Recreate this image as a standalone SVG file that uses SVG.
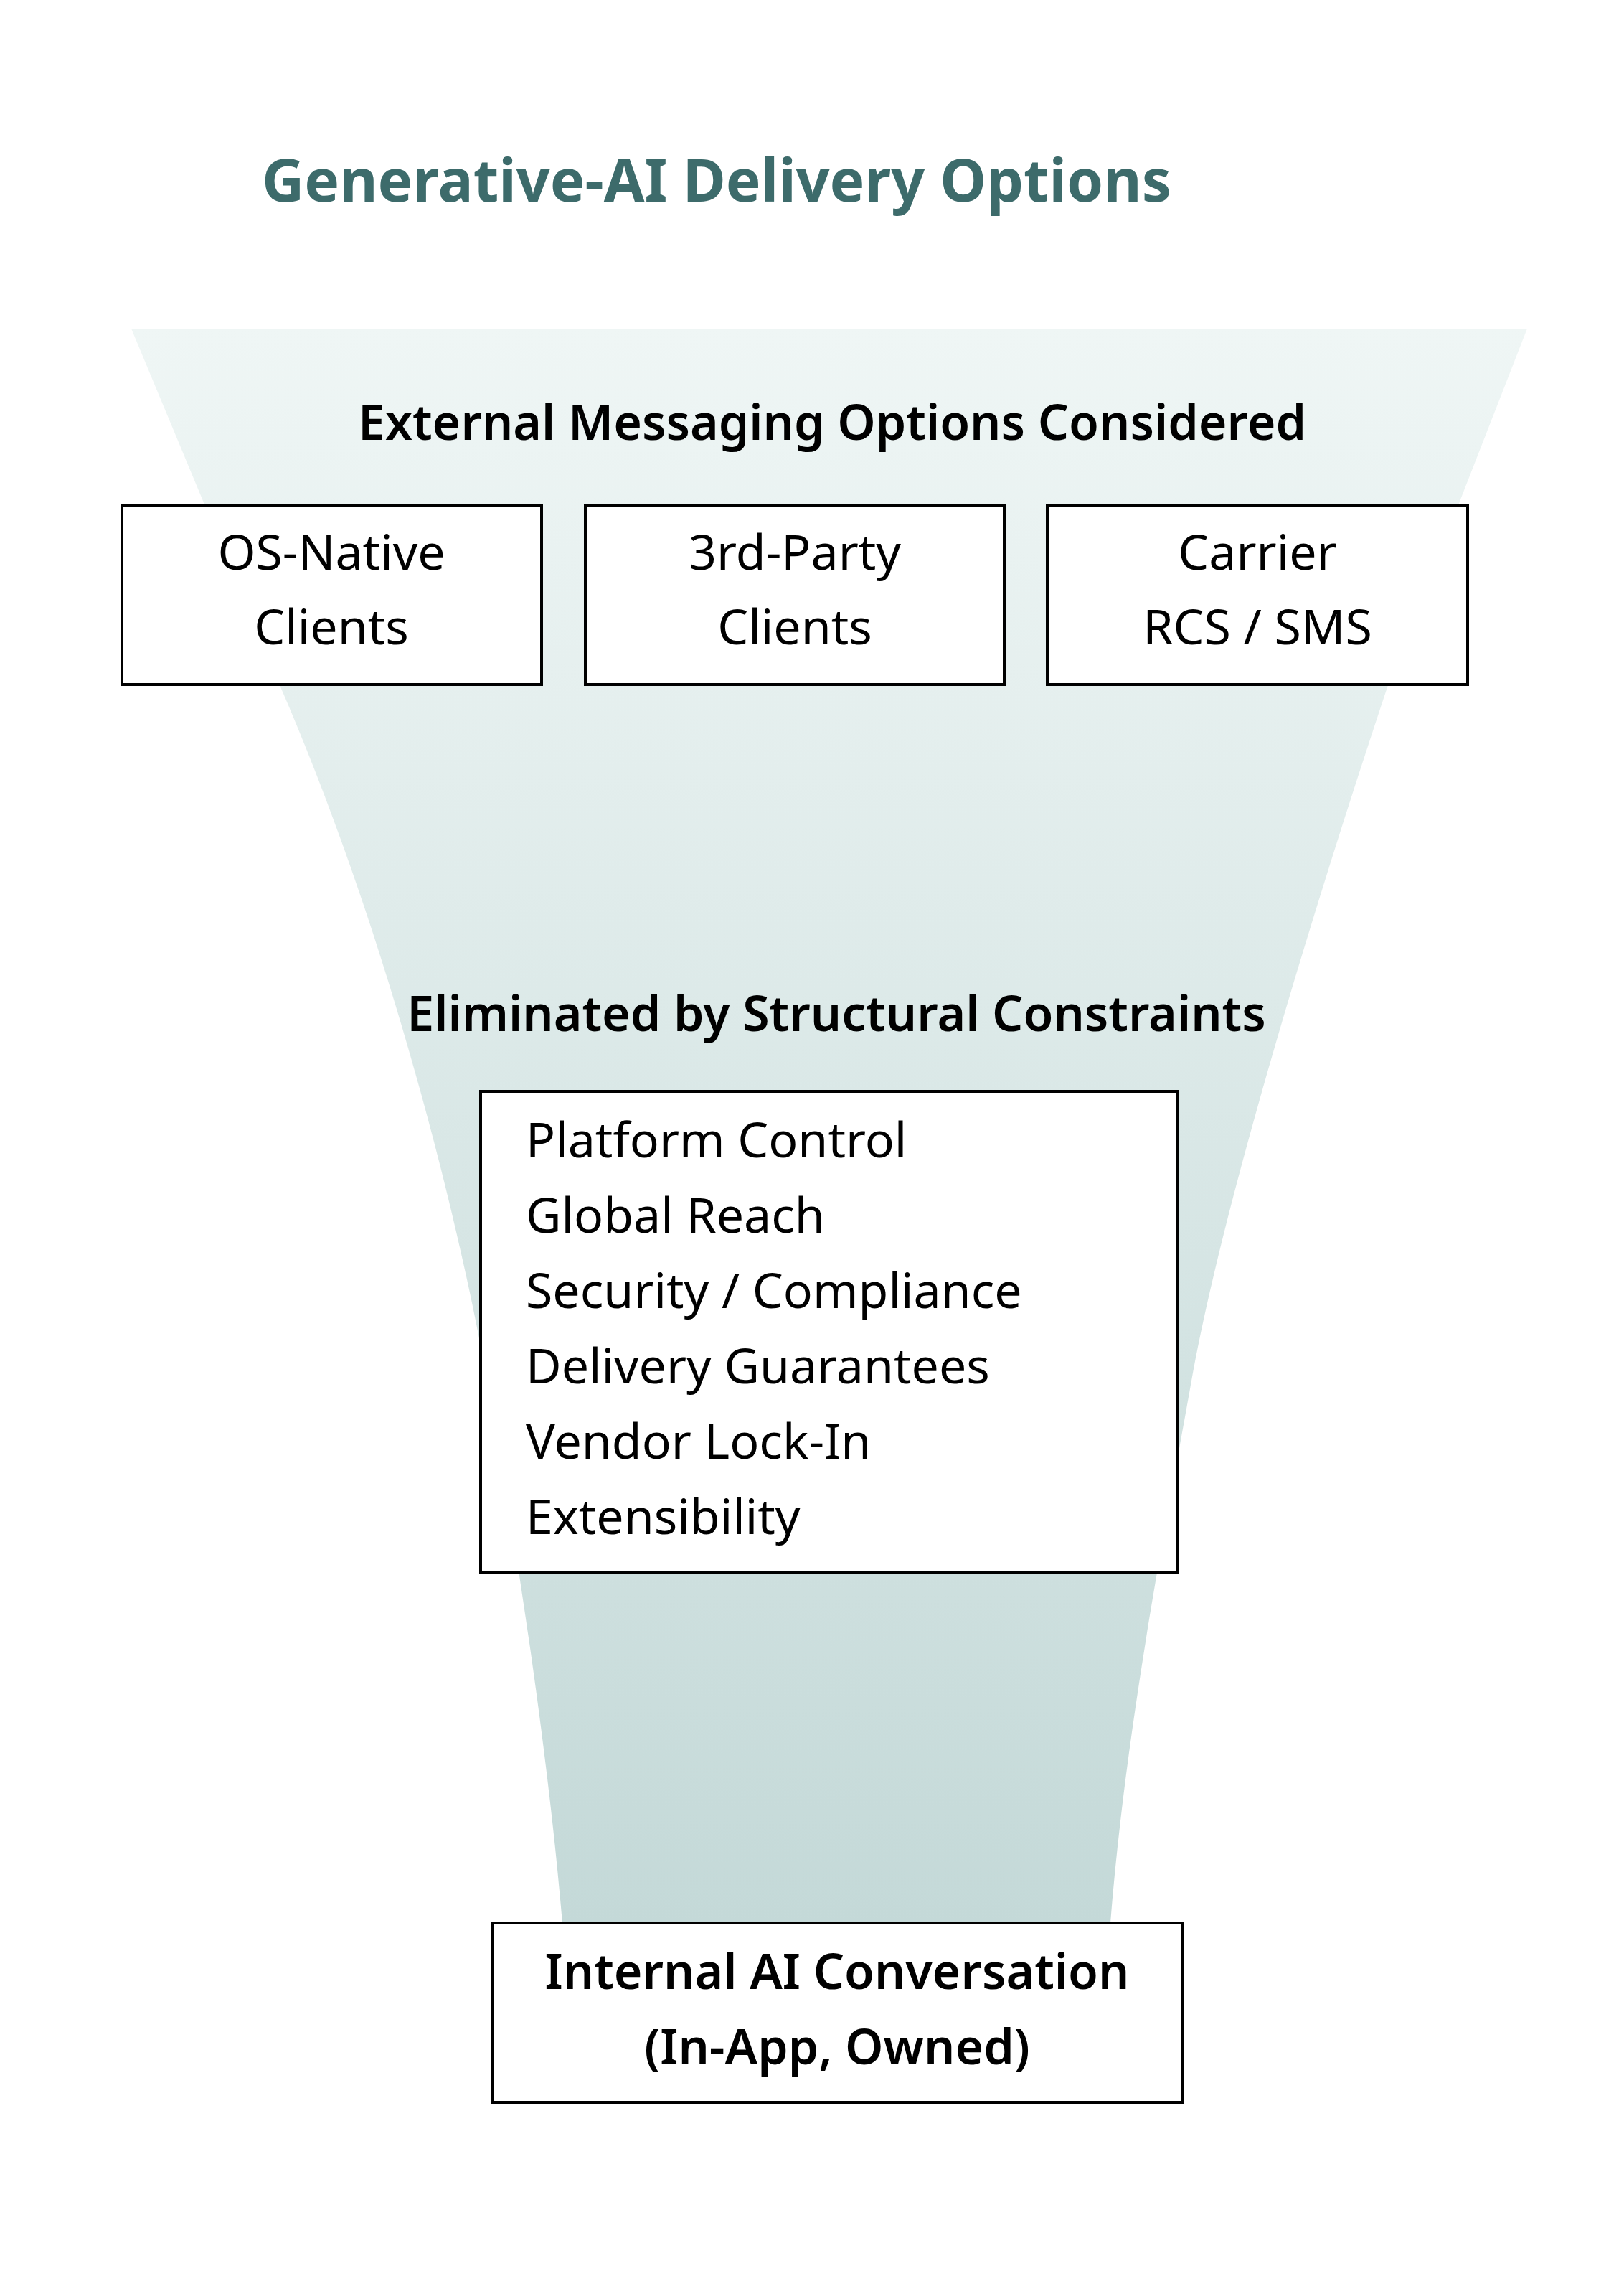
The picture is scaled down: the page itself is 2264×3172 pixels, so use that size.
<svg xmlns="http://www.w3.org/2000/svg" width="2264" height="3172" viewBox="0 0 2264 3172">
<defs>
<linearGradient id="fg" x1="0" y1="0" x2="0" y2="1">
<stop offset="0" stop-color="#eff6f5"/>
<stop offset="1" stop-color="#c4d9d8"/>
</linearGradient>
<style>
.box{fill:#fff;stroke:#000;stroke-width:4}
.t{font-family:"Noto Sans","Open Sans",sans-serif;font-size:68px;fill:#000}
.b{font-weight:600}
.c{text-anchor:middle}
</style>
</defs>
<rect width="2264" height="3172" fill="#fff"/>
<path d="M183,458 L2129,458 L1935,955 C1820,1300 1700,1700 1660,1930 C1630,2100 1570,2400 1548,2680 L784,2680 C760,2400 710,2100 680,1930 C640,1700 540,1300 390,955 Z" fill="url(#fg)"/>
<text x="365" y="281" font-family="'Noto Sans','Open Sans',sans-serif" font-size="82" font-weight="700" fill="#3d6b6b">Generative-AI Delivery Options</text>
<g id="connectors"></g>
<text class="t b c" x="1160" y="613">External Messaging Options Considered</text>
<g id="os-native"><rect class="box" x="170" y="704" width="585" height="250"/><text class="t c" x="462" y="794">OS-Native</text><text class="t c" x="462" y="898">Clients</text></g>
<g id="third-party"><rect class="box" x="816" y="704" width="584" height="250"/><text class="t c" x="1108" y="794">3rd-Party</text><text class="t c" x="1108" y="898">Clients</text></g>
<g id="carrier"><rect class="box" x="1460" y="704" width="586" height="250"/><text class="t c" x="1753" y="794">Carrier</text><text class="t c" x="1753" y="898">RCS / SMS</text></g>
<text class="t b c" x="1166" y="1437">Eliminated by Structural Constraints</text>
<g id="constraints"><rect class="box" x="670" y="1521" width="971" height="670"/>
<text class="t" x="733" y="1613">Platform Control</text>
<text class="t" x="733" y="1718">Global Reach</text>
<text class="t" x="733" y="1823">Security / Compliance</text>
<text class="t" x="733" y="1928">Delivery Guarantees</text>
<text class="t" x="733" y="2033">Vendor Lock-In</text>
<text class="t" x="733" y="2138">Extensibility</text></g>
<g id="internal"><rect class="box" x="686" y="2680" width="962" height="250"/><text class="t b c" x="1167" y="2772">Internal AI Conversation</text><text class="t b c" x="1167" y="2877">(In-App, Owned)</text></g>
</svg>
